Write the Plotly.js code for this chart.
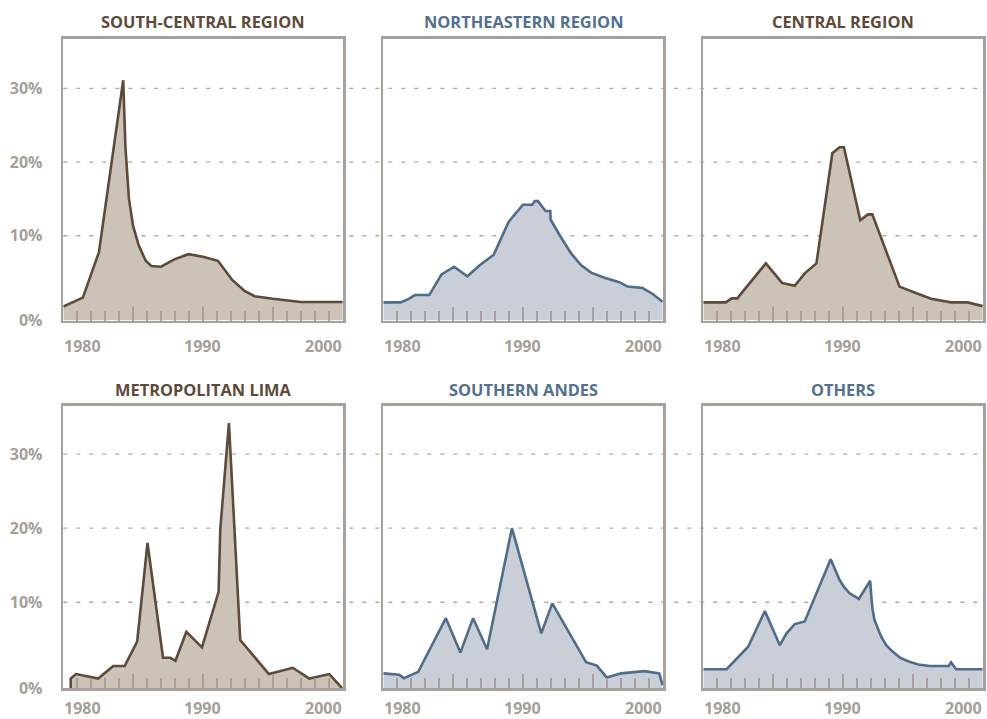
<!DOCTYPE html>
<html>
<head>
<meta charset="utf-8">
<script src="https://cdn.plot.ly/plotly-3.0.1.min.js"></script>
<style>
  html, body { margin: 0; padding: 0; background: #ffffff; }
  #chart { width: 987px; height: 719px; }
</style>
</head>
<body>
<div id="chart"></div>
<script>
// ---------------- DATA ----------------
const panelTitles = ["SOUTH-CENTRAL REGION", "NORTHEASTERN REGION", "CENTRAL REGION",
                     "METROPOLITAN LIMA", "SOUTHERN ANDES", "OTHERS"];
const panelTheme = ["brown", "blue", "brown", "brown", "blue", "blue"];

const southCentralYears = [1980, 1981.4, 1982.55, 1984.29, 1984.45, 1984.7, 1985.0, 1985.4, 1985.9, 1986.3, 1987.0, 1987.95, 1988.96, 1990.0, 1991.07, 1992.1, 1992.98, 1993.7, 1995.0, 1997.0, 2000.0];
const southCentralValues = [0.4, 1.6, 7.75, 31.1, 22.0, 15.0, 11.3, 8.7, 6.6, 5.9, 5.8, 6.8, 7.5, 7.15, 6.6, 4.0, 2.5, 1.8, 1.45, 1.0, 1.0];

const northeasternYears = [1980, 1981.24, 1981.79, 1982.26, 1983.29, 1984.17, 1985.07, 1986.02, 1986.9, 1987.9, 1988.98, 1990.0, 1990.67, 1990.84, 1991.07, 1991.62, 1991.96, 1991.98, 1992.62, 1993.45, 1994.17, 1994.88, 1995.84, 1996.9, 1997.5, 1998.57, 1999.29, 2000.0];
const northeasternValues = [0.96, 0.96, 1.4, 1.95, 1.95, 4.75, 5.8, 4.5, 6.0, 7.4, 11.9, 14.2, 14.2, 14.7, 14.7, 13.35, 13.35, 12.2, 10.1, 7.6, 6.0, 5.0, 4.3, 3.7, 3.1, 2.9, 2.1, 1.05];

const centralYears = [1980, 1981.62, 1982.03, 1982.43, 1984.48, 1985.64, 1986.55, 1987.26, 1988.1, 1989.24, 1989.76, 1990.07, 1991.24, 1991.79, 1992.1, 1994.05, 1995.12, 1996.31, 1997.74, 1998.93, 2000.0];
const centralValues = [0.96, 0.96, 1.5, 1.5, 6.25, 3.6, 3.2, 4.9, 6.25, 21.2, 22.0, 22.0, 12.1, 12.9, 12.9, 3.1, 2.3, 1.45, 0.96, 0.96, 0.45];

const limaYears = [1980.53, 1980.53, 1980.91, 1982.5, 1983.57, 1984.4, 1985.29, 1986.03, 1987.14, 1987.67, 1988.03, 1988.81, 1989.93, 1991.12, 1991.24, 1991.86, 1992.67, 1993.7, 1994.72, 1996.43, 1997.62, 1999.05, 1999.96];
const limaValues = [-1.6, -0.3, 0.3, -0.3, 1.4, 1.4, 4.7, 18.0, 2.5, 2.5, 2.1, 6.0, 3.9, 11.4, 19.8, 34.2, 4.9, 2.6, 0.3, 1.15, -0.3, 0.3, -1.6];

const southernAndesYears = [1980, 1981.14, 1981.48, 1981.96, 1982.5, 1984.48, 1985.52, 1986.43, 1987.43, 1989.21, 1991.31, 1992.1, 1994.52, 1995.29, 1996.0, 1997.03, 1998.69, 1999.76, 2000.0];
const southernAndesValues = [0.4, 0.2, -0.25, 0.2, 0.6, 7.85, 3.2, 7.85, 3.65, 20.0, 5.8, 9.85, 1.9, 1.45, -0.15, 0.4, 0.7, 0.4, -1.2];

const othersYears = [1980, 1981.67, 1983.21, 1984.41, 1985.48, 1985.96, 1986.55, 1987.14, 1987.26, 1989.12, 1989.5, 1989.76, 1990.1, 1990.48, 1991.14, 1991.95, 1992.03, 1992.12, 1992.26, 1992.5, 1992.74, 1993.1, 1993.57, 1994.1, 1994.76, 1995.4, 1996.19, 1997.57, 1997.74, 1998.1, 2000.0];
const othersValues = [0.95, 0.95, 4.0, 8.8, 4.2, 5.8, 7.05, 7.4, 7.4, 15.8, 14.0, 13.0, 12.0, 11.2, 10.45, 12.9, 10.8, 9.0, 7.6, 6.4, 5.35, 4.2, 3.3, 2.5, 1.95, 1.6, 1.4, 1.4, 1.9, 0.95, 0.95];

const seriesYears = [southCentralYears, northeasternYears, centralYears, limaYears, southernAndesYears, othersYears];
const seriesValues = [southCentralValues, northeasternValues, centralValues, limaValues, southernAndesValues, othersValues];

const gridValues = [10, 20, 30];
const yTickLabels = ["0%", "10%", "20%", "30%"];
const xLabelYears = [1980, 1990, 2000];
const xLabelAnchors = ["left", "center", "right"];

// ---------------- STYLE ----------------
const W = 987, H = 719;
const colors = {
  brown: { line: "#5e4a38", fill: "#cbc2b8", title: "#5e4a39" },
  blue:  { line: "#4e6d8b", fill: "#c9ced7", title: "#52708f" }
};
const grayText = "#a69e97";
const borderColor = "#a8a09a";
const gridColor = "#b0a9a2";
const FONT = "'Open Sans', 'Noto Sans', sans-serif";

const colLeft = [63.3, 383.3, 703.3];
const colWidth = 280;
const rowTop = [38.5, 406];
const rowBottom = [320.5, 688];
const yRanges = [[-1.5, 36.76], [-1.58, 36.5]];
const xLabelShift = [-25.5, -19.5];

const data = [];
const layout = {
  width: W, height: H,
  margin: { l: 0, r: 0, t: 0, b: 0 },
  paper_bgcolor: "#ffffff",
  plot_bgcolor: "rgba(0,0,0,0)",
  showlegend: false,
  font: { family: FONT, color: grayText },
  shapes: [],
  annotations: []
};

for (let i = 0; i < 6; i++) {
  const row = Math.floor(i / 3), col = i % 3;
  const sfx = i === 0 ? "" : String(i + 1);
  const xa = "x" + sfx, ya = "y" + sfx;
  const theme = colors[panelTheme[i]];
  const yr = yRanges[row];
  const years = seriesYears[i];
  const vals = seriesValues[i];

  // baseline (bottom of axis) so the fill reaches the panel floor
  data.push({
    type: "scatter", mode: "lines", x: years, y: years.map(() => yr[0]),
    xaxis: xa, yaxis: ya, line: { width: 0, color: "rgba(0,0,0,0)" },
    hoverinfo: "skip"
  });
  data.push({
    type: "scatter", mode: "lines", x: years, y: vals,
    xaxis: xa, yaxis: ya, fill: "tonexty", fillcolor: theme.fill,
    line: { color: theme.line, width: 2.6 },
    name: panelTitles[i]
  });

  layout["xaxis" + sfx] = {
    domain: [colLeft[col] / W, (colLeft[col] + colWidth) / W],
    anchor: ya, range: [1980, 2000.05], fixedrange: true,
    showgrid: false, zeroline: false,
    showline: true, mirror: true, linecolor: borderColor, linewidth: 2.8,
    ticks: "inside", tickmode: "linear", tick0: 1980, dtick: 5,
    ticklen: 14, tickwidth: 2.2, tickcolor: borderColor,
    minor: { ticks: "inside", tickmode: "linear", tick0: 1980, dtick: 1, ticklen: 10, tickwidth: 2, tickcolor: borderColor, showgrid: false },
    showticklabels: false
  };
  layout["yaxis" + sfx] = {
    domain: [1 - rowBottom[row] / H, 1 - rowTop[row] / H],
    anchor: xa, range: yr, fixedrange: true,
    showgrid: false, zeroline: false,
    showline: true, mirror: true, linecolor: borderColor, linewidth: 2.6,
    ticks: "",
    tickmode: "array",
    tickvals: [yr[0]].concat(gridValues),
    ticktext: yTickLabels,
    showticklabels: col === 0,
    ticklabelstandoff: 15,
    tickfont: { family: FONT, size: 16, color: grayText, weight: 700 }
  };

  // panel title
  layout.annotations.push({
    text: panelTitles[i], showarrow: false,
    xref: xa + " domain", yref: ya + " domain", x: 0.5, y: 1,
    xanchor: "center", yanchor: "middle", yshift: 16.5,
    font: { family: FONT, size: 16.4, color: theme.title, weight: 700 }
  });
  // x labels
  xLabelYears.forEach((yrLabel, k) => {
    layout.annotations.push({
      text: String(yrLabel), showarrow: false,
      xref: xa, yref: ya + " domain", x: yrLabel, y: 0,
      xanchor: xLabelAnchors[k], yanchor: "middle", yshift: xLabelShift[row],
      borderpad: 0,
      font: { family: FONT, size: 16, color: grayText, weight: 700 }
    });
  });
}

// dashed grid lines running across each row of panels
[0, 1].forEach(row => {
  const ya = row === 0 ? "y" : "y4";
  gridValues.forEach(v => {
    layout.shapes.push({
      type: "line", layer: "below",
      xref: "paper", yref: ya,
      x0: colLeft[0] / W, x1: (colLeft[2] + colWidth + 1.5) / W,
      y0: v, y1: v,
      line: { color: gridColor, width: 1.3, dash: "4px,9px" }
    });
  });
});

Plotly.newPlot("chart", data, layout, { displayModeBar: false, staticPlot: true });
</script>
</body>
</html>
